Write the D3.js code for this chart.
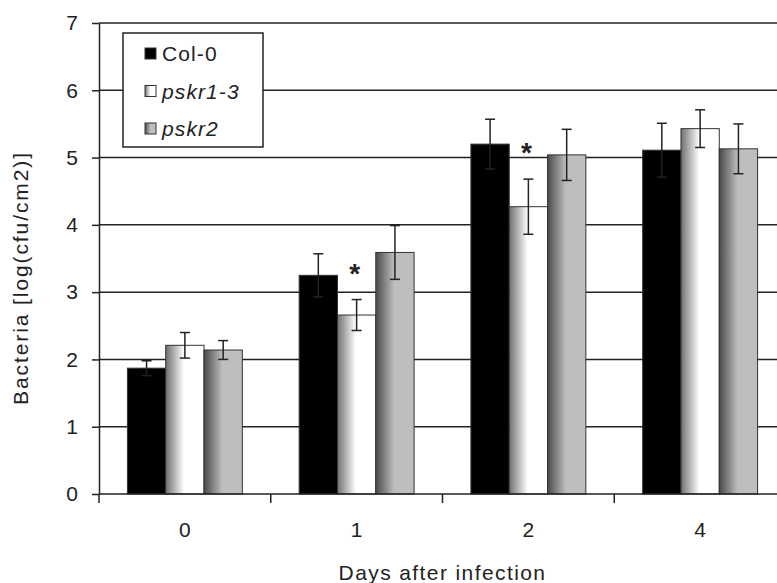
<!DOCTYPE html>
<html>
<head>
<meta charset="utf-8">
<script src="https://cdn.jsdelivr.net/npm/d3@7.9.0/dist/d3.min.js"></script>
<style>
  body { margin: 0; background: #fff; }
  svg text { font-family: "Liberation Sans", Arial, sans-serif; fill: #222; }
</style>
</head>
<body>
<div id="chart"></div>
<script>
// data
const days = ["0", "1", "2", "4"];
const series = ["Col-0", "pskr1-3", "pskr2"];
const col0 = [1.87, 3.25, 5.20, 5.11];
const col0Err = [0.11, 0.32, 0.37, 0.40];
const pskr13 = [2.21, 2.66, 4.27, 5.43];
const pskr13Err = [0.19, 0.23, 0.41, 0.28];
const pskr2 = [2.14, 3.59, 5.04, 5.13];
const pskr2Err = [0.14, 0.40, 0.38, 0.37];
const pskr13Star = [false, true, true, false];
const yTicks = [0, 1, 2, 3, 4, 5, 6, 7];

const W = 777, H = 583;
const plotLeft = 99, plotRight = 786, plotTop = 23, plotBottom = 494;

const svg = d3.select("#chart")
  .append("svg")
    .attr("width", W)
    .attr("height", H);

// gradients for the two mutant bars (dark on the left edge)
const defs = svg.append("defs");
function grad(id, stops) {
  const g = defs.append("linearGradient")
    .attr("id", id)
    .attr("x1", "0%").attr("x2", "100%")
    .attr("y1", "0%").attr("y2", "0%");
  stops.forEach(([o, c]) => g.append("stop").attr("offset", o).attr("stop-color", c));
}
grad("gWhite", [["0%", "#707070"], ["48%", "#ffffff"], ["100%", "#ffffff"]]);
grad("gGray", [["0%", "#4a4a4a"], ["48%", "#bebebe"], ["100%", "#bebebe"]]);
const fills = {"Col-0": "#000", "pskr1-3": "url(#gWhite)", "pskr2": "url(#gGray)"};

const x = d3.scaleBand()
  .domain(days)
  .range([plotLeft, plotRight])
  .padding(0);

const xs = d3.scaleBand()
  .domain(series)
  .range([0, x.bandwidth()])
  .paddingInner(0)
  .paddingOuter(0.742);

const y = d3.scaleLinear()
  .domain([0, 7])
  .range([plotBottom, plotTop]);

const rows = days.map((d, i) => ({
  day: d,
  bars: [
    {key: "Col-0", v: col0[i], e: col0Err[i], star: false},
    {key: "pskr1-3", v: pskr13[i], e: pskr13Err[i], star: pskr13Star[i]},
    {key: "pskr2", v: pskr2[i], e: pskr2Err[i], star: false}
  ]
}));

// gridlines
svg.append("g")
  .selectAll("line")
  .data(yTicks.filter(t => t > 0))
  .join("line")
    .attr("x1", plotLeft).attr("x2", plotRight)
    .attr("y1", d => y(d)).attr("y2", d => y(d))
    .attr("stroke", "#222")
    .attr("stroke-width", 1.5);

// bars
const groups = svg.append("g")
  .selectAll("g")
  .data(rows)
  .join("g")
    .attr("transform", d => `translate(${x(d.day)},0)`);

groups.selectAll("rect")
  .data(d => d.bars)
  .join("rect")
    .attr("x", d => xs(d.key))
    .attr("y", d => y(d.v))
    .attr("width", xs.bandwidth())
    .attr("height", d => y(0) - y(d.v))
    .attr("fill", d => fills[d.key])
    .attr("stroke", "#333")
    .attr("stroke-width", 1);

// error bars
const eb = groups.selectAll("g.err")
  .data(d => d.bars)
  .join("g")
    .attr("class", "err")
    .attr("transform", d => `translate(${xs(d.key) + xs.bandwidth() / 2},0)`)
    .attr("stroke", "#222")
    .attr("stroke-width", 1.5);
eb.append("line")
  .attr("y1", d => y(d.v - d.e)).attr("y2", d => y(d.v + d.e));
eb.append("line")
  .attr("x1", -5).attr("x2", 5)
  .attr("y1", d => y(d.v + d.e)).attr("y2", d => y(d.v + d.e));
eb.append("line")
  .attr("x1", -5).attr("x2", 5)
  .attr("y1", d => y(d.v - d.e)).attr("y2", d => y(d.v - d.e));

// asterisks
groups.selectAll("text.star")
  .data(d => d.bars.filter(b => b.star))
  .join("text")
    .attr("class", "star")
    .attr("x", d => xs(d.key) + xs.bandwidth() / 2 - 2)
    .attr("y", d => y(d.v + d.e) - 17)
    .attr("text-anchor", "middle")
    .style("font-size", "28px")
    .style("font-weight", "bold")
    .text("*");

// y axis
const yAxis = svg.append("g")
  .attr("transform", `translate(${plotLeft},0)`)
  .call(d3.axisLeft(y).tickValues(yTicks).tickFormat(d3.format("d"))
    .tickSize(7).tickSizeOuter(0).tickPadding(14));
yAxis.select(".domain").attr("stroke", "#222").attr("stroke-width", 1.5);
yAxis.selectAll(".tick line").attr("stroke", "#222").attr("stroke-width", 1.5);
yAxis.selectAll("text").style("font-size", "21px").attr("fill", "#222");

// x axis
svg.append("line")
  .attr("x1", plotLeft).attr("x2", plotRight)
  .attr("y1", y(0)).attr("y2", y(0))
  .attr("stroke", "#222").attr("stroke-width", 1.5);
svg.append("g")
  .selectAll("line")
  .data(days.map(d => x(d)).concat([plotRight]))
  .join("line")
    .attr("x1", d => d).attr("x2", d => d)
    .attr("y1", y(0)).attr("y2", y(0) + 9)
    .attr("stroke", "#222").attr("stroke-width", 1.5);
svg.append("g")
  .selectAll("text")
  .data(days)
  .join("text")
    .attr("x", d => x(d) + x.bandwidth() / 2)
    .attr("y", y(0) + 43)
    .attr("text-anchor", "middle")
    .style("font-size", "21px")
    .text(d => d);

// axis titles
svg.append("text")
  .attr("x", (plotLeft + plotRight) / 2)
  .attr("y", 580)
  .attr("text-anchor", "middle")
  .style("font-size", "21px")
  .style("letter-spacing", "1.4px")
  .text("Days after infection");

svg.append("text")
  .attr("transform", "translate(28,278) rotate(-90)")
  .attr("text-anchor", "middle")
  .style("font-size", "21px")
  .style("letter-spacing", "1.9px")
  .text("Bacteria [log(cfu/cm2)]");

// legend
const legend = svg.append("g").attr("transform", "translate(123,33)");
legend.append("rect")
  .attr("width", 140).attr("height", 114)
  .attr("fill", "#fff")
  .attr("stroke", "#222")
  .attr("stroke-width", 1.5);
const li = legend.selectAll("g.item")
  .data(series)
  .join("g")
    .attr("class", "item")
    .attr("transform", (d, i) => `translate(22,${20 + i * 37.5})`);
li.append("rect")
  .attr("y", -5).attr("width", 11).attr("height", 11)
  .attr("fill", d => fills[d])
  .attr("stroke", "#333").attr("stroke-width", 1);
li.append("text")
  .attr("x", 17).attr("y", 8)
  .style("font-size", "21px")
  .style("letter-spacing", "1.1px")
  .style("font-style", (d, i) => i === 0 ? "normal" : "italic")
  .text(d => d);
</script>
</body>
</html>
